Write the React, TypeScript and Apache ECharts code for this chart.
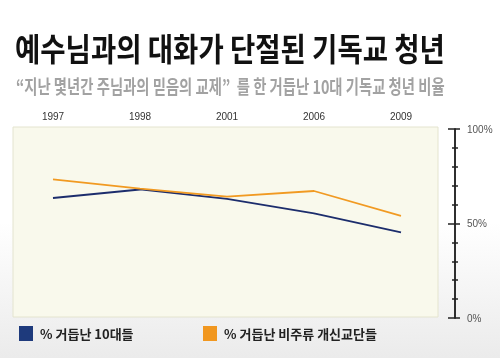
import React, { useEffect, useRef } from "react";
import * as echarts from "echarts";

const years = ["1997", "1998", "2001", "2006", "2009"];
const bornAgainTeens = [63.5, 68, 63, 55.4, 45.3];
const bornAgainNonMainline = [73.4, 68.5, 64.2, 67.2, 54];
const seriesNames = ["% 거듭난 10대들", "% 거듭난 비주류 개신교단들"];
const yTickLabels = ["0%", "50%", "100%"];
const titleText = "예수님과의 대화가 단절된 기독교 청년";
const subtitleText = "“지난 몇년간 주님과의 믿음의 교제”  를 한 거듭난 10대 기독교 청년 비율";

const KR = "'Noto Sans CJK KR', 'Noto Sans', sans-serif";
const LAT = "'Liberation Sans', Arial, sans-serif";

export default function App() {
  const ref = useRef<HTMLDivElement>(null);
  useEffect(() => {
    if (!ref.current) return;
    const chart = echarts.init(ref.current, null, { renderer: "svg" });
    const yAxisBase = {
      type: "value" as const,
      position: "right" as const,
      offset: 10.5,
      min: 0,
      max: 100,
      interval: 50,
      splitLine: { show: false },
      axisLine: { show: true, lineStyle: { color: "#222", width: 1.5 } },
    };
    chart.setOption({
      animation: false,
      backgroundColor: "transparent",
      graphic: [
        {
          type: "rect",
          z: -10,
          silent: true,
          shape: { x: 0, y: 0, width: 500, height: 358 },
          style: {
            fill: new echarts.graphic.LinearGradient(0, 0, 0, 1, [
              { offset: 0, color: "#ffffff" },
              { offset: 0.62, color: "#ffffff" },
              { offset: 1, color: "#ebebeb" },
            ]),
          },
        },
        {
          type: "rect",
          z: -5,
          silent: true,
          shape: { x: 13, y: 127, width: 425, height: 190 },
          style: { fill: "#f9f9ec", stroke: "#e4e4cf", lineWidth: 1 },
        },
        {
          type: "text",
          x: 15,
          y: 31,
          scaleX: 0.86,
          style: {
            text: titleText,
            font: `bold 32px ${KR}`,
            fill: "#111",
          },
        },
        {
          type: "text",
          x: 16,
          y: 76,
          scaleX: 0.755,
          style: {
            text: subtitleText,
            font: `bold 19px ${KR}`,
            fill: "#a2a2a2",
          },
        },
      ],
      legend: [
        {
          left: 14,
          top: 321,
          icon: "rect",
          itemWidth: 14,
          itemHeight: 15,
          data: [seriesNames[0]],
          textStyle: { fontFamily: KR, fontWeight: "bold", fontSize: 13, color: "#222", padding: [0, 0, 0, 2] },
        },
        {
          left: 198,
          top: 321,
          icon: "rect",
          itemWidth: 14,
          itemHeight: 15,
          data: [seriesNames[1]],
          textStyle: { fontFamily: KR, fontWeight: "bold", fontSize: 13, color: "#222", padding: [0, 0, 0, 2] },
        },
      ],
      grid: { left: 9.5, right: 55.5, top: 129, bottom: 40, containLabel: false },
      xAxis: {
        type: "category",
        position: "top",
        data: years,
        boundaryGap: true,
        axisLine: { show: false },
        axisTick: { show: false },
        axisLabel: { margin: 8, fontFamily: LAT, fontSize: 10, color: "#333" },
      },
      yAxis: [
        {
          ...yAxisBase,
          axisTick: { show: true, inside: true, length: 7, lineStyle: { color: "#222", width: 1.5 } },
          minorTick: { show: true, splitNumber: 5, length: 3, lineStyle: { color: "#222", width: 1.5 } },
          axisLabel: {
            margin: 12,
            fontFamily: LAT,
            fontSize: 10,
            color: "#555",
            formatter: (v: number) => yTickLabels[Math.round(v / 50)] ?? "",
          },
        },
        {
          ...yAxisBase,
          axisTick: { show: true, inside: false, length: 5, lineStyle: { color: "#222", width: 1.5 } },
          minorTick: { show: true, splitNumber: 5, length: 3, lineStyle: { color: "#222", width: 1.5 } },
          axisLabel: { show: false },
        },
      ],
      series: [
        {
          name: seriesNames[0],
          type: "line",
          data: bornAgainTeens,
          showSymbol: false,
          symbol: "none",
          color: "#1e3a7c",
          lineStyle: { color: "#1c2d6c", width: 1.8 },
        },
        {
          name: seriesNames[1],
          type: "line",
          data: bornAgainNonMainline,
          showSymbol: false,
          symbol: "none",
          color: "#f1971f",
          lineStyle: { color: "#f19a22", width: 1.8 },
        },
      ],
    });
    return () => chart.dispose();
  }, []);
  return (
    <div
      ref={ref}
      style={{ position: "fixed", left: 0, top: 0, width: 500, height: 358 }}
    />
  );
}
